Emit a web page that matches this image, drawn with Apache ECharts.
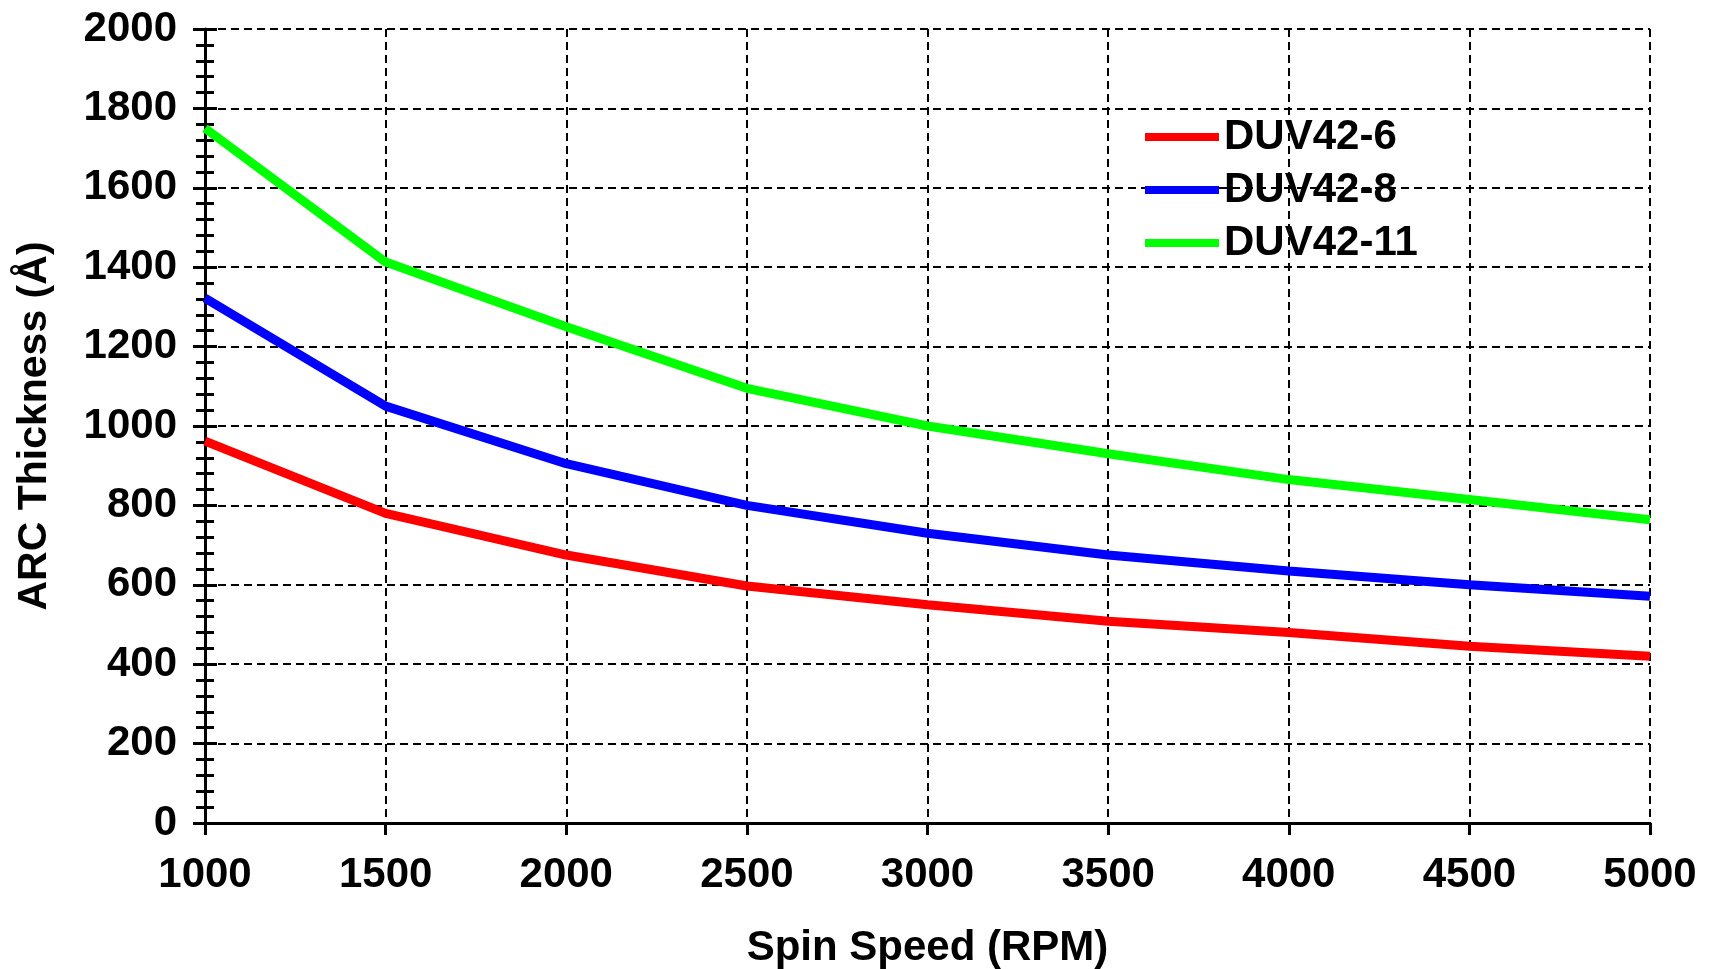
<!DOCTYPE html>
<html>
<head>
<meta charset="utf-8">
<script src="https://cdn.jsdelivr.net/npm/echarts@6/dist/echarts.min.js"></script>
<style>
  html, body { margin: 0; padding: 0; background: #fff; }
  #chart { width: 1711px; height: 969px; }
</style>
</head>
<body>
<div id="chart"></div>
<script>
  const speeds = [1000, 1500, 2000, 2500, 3000, 3500, 4000, 4500, 5000]
  const duv6 = [962, 780, 675, 597, 550, 508, 480, 445, 420]
  const duv8 = [1322, 1050, 905, 800, 730, 675, 635, 600, 571]
  const duv11 = [1750, 1413, 1250, 1095, 1000, 930, 865, 815, 764]
  const seriesNames = ['DUV42-6', 'DUV42-8', 'DUV42-11']
  const seriesColors = ['#ff0000', '#0000ff', '#00ff00']

  const font = '"Liberation Sans", Arial, sans-serif'
  const pairs = vals => speeds.map((s, i) => [s, vals[i]])
  const plain = v => String(v)   // no thousand separators

  const chart = echarts.init(document.getElementById('chart'))

  const yBase = {
    type: 'value',
    min: 0,
    max: 2000,
    interval: 200,
    position: 'left'
  }

  chart.setOption({
    backgroundColor: '#fff',
    animation: false,
    grid: { left: 205, top: 29, right: 61, bottom: 146, outerBoundsMode: 'none' },
    legend: {
      orient: 'vertical',
      left: 1140,
      top: 111,
      itemWidth: 74,
      itemHeight: 8,
      itemGap: 11,
      icon: 'rect',
      textStyle: { fontFamily: font, fontSize: 42, fontWeight: 'bold', color: '#000' },
      data: seriesNames
    },
    xAxis: {
      type: 'value',
      min: 1000,
      max: 5000,
      interval: 500,
      name: 'Spin Speed (RPM)',
      nameLocation: 'middle',
      nameGap: 104,
      nameTextStyle: { fontFamily: font, fontSize: 42, fontWeight: 'bold', color: '#000' },
      axisLine: { lineStyle: { color: '#000', width: 3 } },
      axisTick: { show: true, length: 12, lineStyle: { color: '#000', width: 3 } },
      axisLabel: { margin: 31, formatter: plain, fontFamily: font, fontSize: 42, fontWeight: 'bold', color: '#000' },
      splitLine: { lineStyle: { color: '#000', width: 2, type: [8, 5] } }
    },
    yAxis: [
      Object.assign({}, yBase, {
        name: 'ARC Thickness (Å)',
        nameLocation: 'middle',
        nameGap: 150,
        nameTextStyle: { fontFamily: font, fontSize: 41, fontWeight: 'bold', color: '#000' },
        axisLine: { show: true, lineStyle: { color: '#000', width: 3 } },
        axisTick: { show: true, length: 12, lineStyle: { color: '#000', width: 3 } },
        minorTick: { show: true, splitNumber: 5, length: 9, lineStyle: { color: '#000', width: 3 } },
        axisLabel: { margin: 28, formatter: plain, fontFamily: font, fontSize: 42, fontWeight: 'bold', color: '#000' },
        splitLine: { lineStyle: { color: '#000', width: 2, type: [8, 5] } }
      }),
      // same scale again, only to draw the ticks on the inner side
      Object.assign({}, yBase, {
        axisLine: { show: false },
        axisTick: { show: true, inside: true, length: 12, lineStyle: { color: '#000', width: 3 } },
        minorTick: { show: true, splitNumber: 5, length: 9, lineStyle: { color: '#000', width: 3 } },
        axisLabel: { show: false },
        splitLine: { show: false }
      })
    ],
    series: [duv6, duv8, duv11].map((vals, i) => ({
      name: seriesNames[i],
      type: 'line',
      data: pairs(vals),
      showSymbol: false,
      symbol: 'none',
      color: seriesColors[i],
      lineStyle: { color: seriesColors[i], width: 9 },
      z: 3
    }))
  })
</script>
</body>
</html>
